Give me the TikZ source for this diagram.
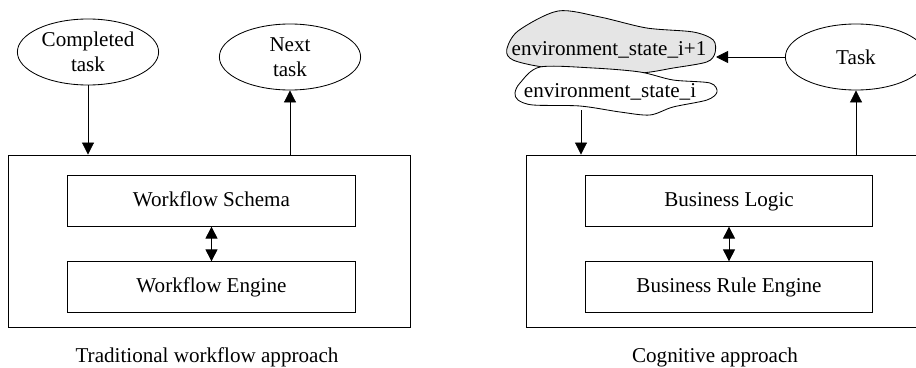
\documentclass[tikz,border=0pt]{standalone}
\usepackage{fontspec}
\setmainfont{Liberation Serif}
\usetikzlibrary{shapes.geometric,arrows.meta,positioning}

\begin{document}
\begin{tikzpicture}[x=0.025cm,y=-0.025cm,font=\fontsize{15}{18}\selectfont,line width=0.6pt,>={Triangle[length=0.3cm,width=0.3cm]}]
\tikzstyle{oval} = [ellipse, draw, minimum width=3.53cm, minimum height=1.65cm, inner sep=0pt, align=center]
\tikzstyle{block} = [rectangle, draw, minimum width=7.18cm, minimum height=1.26cm, text height=8pt, text depth=0pt]
\tikzstyle{frame} = [rectangle, draw, minimum width=10.05cm, minimum height=4.3cm]
\useasboundingbox (0,0) rectangle (916,368);
\clip (0,0) rectangle (916,368);
% traditional workflow approach
\node (trad) [frame] at (209,241) {};
\node (WS) [block] at (211.5,201) {Workflow Schema};
\node (WE) [block] at (211.5,287) {Workflow Engine};
\node (CT) [oval] at (88,52) {Completed\\task};
\node (NT) [oval] at (290,57) {Next\\task};
\node (tradcap) at (207,357) {Traditional workflow approach};
\draw [->] (CT) -- (CT |- trad.north);
\draw [->] (NT |- trad.north) -- (NT);
\draw [<->] (WS) -- (WE);
% cognitive approach
\node (cog) [frame] at (727,241) {};
\node (BL) [block] at (729,201) {Business Logic};
\node (BRE) [block] at (729,287) {Business Rule Engine};
\node (T) [oval] at (856,57) {Task};
\node (cogcap) at (715,357) {Cognitive approach};
\filldraw [fill=black!10] plot [smooth cycle] coordinates {(506.7,50) (518,31) (558,11) (600,17) (646.7,28) (693.3,32) (713.3,40) (715,53) (706.7,62) (673.3,68) (640,73) (593,71) (543,67) (513,60)};
\filldraw [fill=white] plot [smooth cycle] coordinates {(515,93) (520,83) (540,67) (593,68) (640,72) (673,80) (710,83) (717,92) (707,100) (673,107) (650,115) (620,112) (580,106) (533,105) (518,100)};
\node (ESN) at (609,50) {environment\_state\_i+1};
\node (ESC) at (610,92) {environment\_state\_i};
\coordinate (ESNe) at (716,57);
\coordinate (ESCs) at (581,110);
\draw [->] (T) -- (ESNe);
\draw [->] (ESCs) -- (ESCs |- cog.north);
\draw [->] (T |- cog.north) -- (T);
\draw [<->] (BL) -- (BRE);
\end{tikzpicture}
\end{document}
